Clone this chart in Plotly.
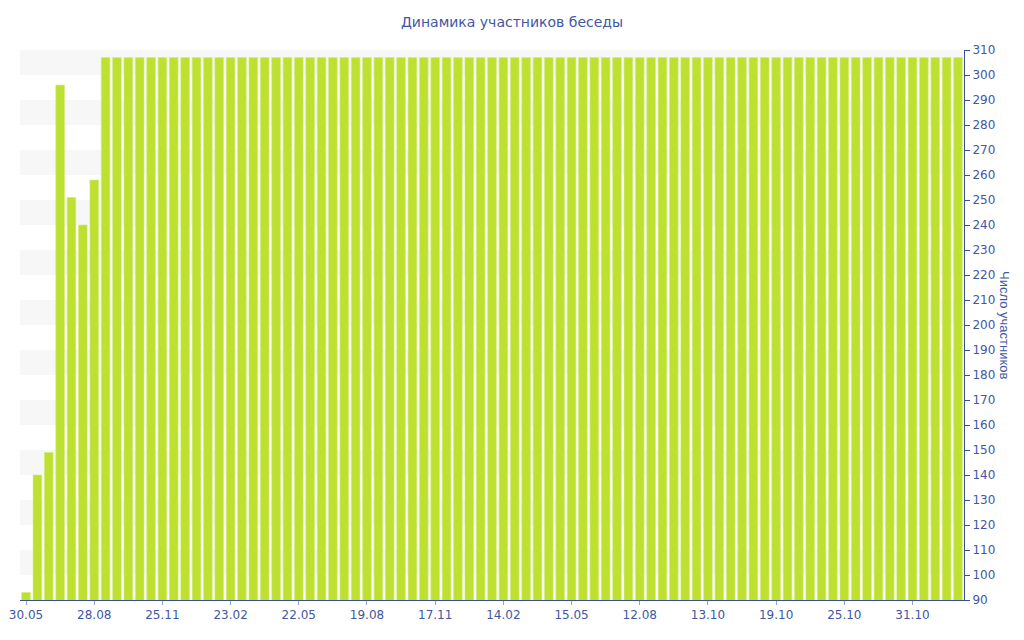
import plotly.graph_objects as go

tick_labels = ["30.05", "28.08", "25.11", "23.02", "22.05", "19.08", "17.11",
               "14.02", "15.05", "12.08", "13.10", "19.10", "25.10", "31.10"]
n_bars = 83
first_values = [93, 140, 149, 296, 251, 240, 258]
plateau_value = 307
values = first_values + [plateau_value] * (n_bars - len(first_values))
categories = list(range(n_bars))
y_range = [90, 310]
y_ticks = list(range(90, 311, 10))
band_starts = list(range(100, 310, 20))

text_color = "#4157a3"
axis_color = "#3e4f9a"
bar_color = "#bde031"

fig = go.Figure()
fig.add_trace(go.Bar(
    x=categories, y=values,
    marker=dict(color=bar_color, line=dict(color="#d3ec74", width=0.6)),
    hoverinfo="y",
))

shapes = []
for b in band_starts:
    shapes.append(dict(type="rect", xref="paper", yref="y", x0=0, x1=1,
                       y0=b, y1=b + 10, fillcolor="#f7f7f7",
                       line=dict(width=0), layer="below"))

# page body has an 8px default margin; the figure is sized to fit the window
fig.update_layout(
    width=1016, height=632,
    margin=dict(l=12, r=60, t=42, b=40, autoexpand=False),
    paper_bgcolor="white", plot_bgcolor="white",
    bargap=0.24,
    showlegend=False,
    shapes=shapes,
    title=dict(text="Динамика участников беседы", x=(512 - 8) / 1016, xanchor="center",
               y=1 - 14 / 632, yanchor="middle",
               font=dict(family="DejaVu Sans", size=14, color=text_color)),
    xaxis=dict(
        type="linear", automargin=False,
        range=[-0.53, n_bars - 0.47],
        tickmode="array",
        tickvals=categories[::6][:len(tick_labels)],
        ticktext=tick_labels,
        ticks="outside", ticklen=4, tickcolor="#9aa3c8",
        showline=True, linecolor=axis_color, linewidth=1,
        showgrid=False, zeroline=False,
        tickfont=dict(family="DejaVu Sans", size=12, color=text_color),
    ),
    yaxis=dict(
        side="right", automargin=False,
        range=y_range,
        tickmode="array", tickvals=y_ticks,
        ticks="outside", ticklen=5, tickcolor=axis_color,
        showline=True, linecolor=axis_color, linewidth=1,
        showgrid=False, zeroline=False,
        tickfont=dict(family="DejaVu Sans", size=12, color=text_color),
    ),
    annotations=[dict(text="Число участников", xref="paper", yref="paper",
                      x=1 + 41 / 944, y=0.5, xanchor="center", yanchor="middle",
                      textangle=90, showarrow=False,
                      font=dict(family="Liberation Sans", size=13, color=text_color))],
)

fig.write_html("out.html")
